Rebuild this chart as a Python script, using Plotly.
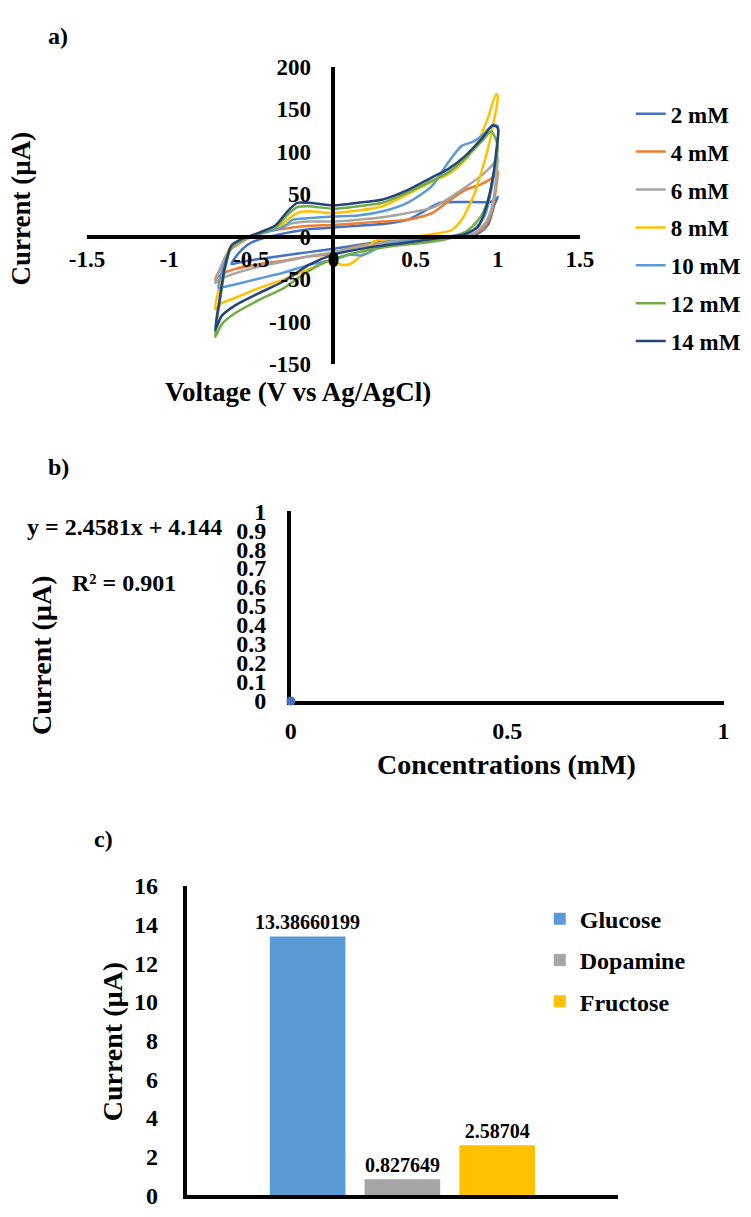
import plotly.graph_objects as go

W, H = 751, 1217
FONT = "Liberation Serif"

def fx(px):
    return px / W

def fy(py):
    return 1 - py / H

# ---------------- Panel a: cyclic voltammograms ----------------
conc_labels = ["2 mM", "4 mM", "6 mM", "8 mM", "10 mM", "12 mM", "14 mM"]
colors_a = ["#4472C4", "#ED7D31", "#A5A5A5", "#FFC000", "#5B9BD5", "#70AD47", "#264478"]

v_2mM = [-0.62, -0.58, -0.52, -0.45, -0.35, -0.25, -0.15, 0.0, 0.15, 0.3, 0.45, 0.55, 0.65, 0.8, 0.95, 0.99, 1.0,
         0.98, 0.94, 0.88, 0.8, 0.65, 0.45, 0.25, 0.1, 0.0, -0.15, -0.3, -0.45, -0.55, -0.62]
i_2mM = [-32, -20, -9, -3, 2, 6, 9, 11, 13, 15, 20, 30, 40, 41, 41, 44, 47,
         38, 14, 4, 0, -1, -3, -7, -11, -14, -18, -22, -26, -29, -32]

v_4mM = [-0.72, -0.69, -0.66, -0.62, -0.55, -0.45, -0.35, -0.25, -0.15, 0.0, 0.15, 0.3, 0.45, 0.6, 0.7, 0.8, 0.9, 0.97, 1.0,
         0.99, 0.96, 0.92, 0.86, 0.78, 0.6, 0.4, 0.2, 0.05, 0.0, -0.15, -0.3, -0.45, -0.6, -0.68, -0.72]
i_4mM = [-50, -38, -26, -14, -5, 5, 8, 11, 13, 14, 16, 18, 20, 28, 42, 55, 62, 70, 77,
         58, 28, 12, 4, 0, -3, -6, -9, -16, -20, -23, -28, -32, -38, -44, -50]

v_6mM = [-0.72, -0.69, -0.66, -0.62, -0.55, -0.45, -0.35, -0.25, -0.15, 0.0, 0.15, 0.3, 0.45, 0.6, 0.7, 0.8, 0.9, 0.97, 1.0,
         0.99, 0.97, 0.93, 0.87, 0.8, 0.65, 0.45, 0.3, 0.15, 0.0, -0.15, -0.3, -0.45, -0.6, -0.68, -0.72]
i_6mM = [-54, -38, -24, -12, -4, 4, 10, 16, 18, 18, 20, 23, 28, 34, 45, 58, 72, 85, 95,
         70, 40, 18, 6, 1, -2, -4, -7, -12, -18, -23, -29, -35, -43, -49, -54]

v_8mM = [-0.72, -0.69, -0.66, -0.62, -0.55, -0.45, -0.35, -0.28, -0.22, -0.15, 0.0, 0.15, 0.3, 0.45, 0.6, 0.7, 0.8, 0.88, 0.94, 0.99,
         1.0, 0.97, 0.935, 0.89, 0.857, 0.78, 0.72, 0.6, 0.4, 0.25, 0.17, 0.1, 0.05, 0.0, -0.15, -0.3, -0.45, -0.6, -0.68, -0.72]
i_8mM = [-85, -55, -28, -10, -3, 4, 10, 20, 28, 30, 28, 31, 36, 50, 65, 74, 90, 112, 140, 168,
         165, 130, 100, 70, 50, 20, 8, 3, -2, -5, -22, -32, -33, -28, -38, -50, -60, -72, -78, -85]

v_10mM = [-0.7, -0.67, -0.63, -0.58, -0.5, -0.4, -0.3, -0.25, -0.15, 0.0, 0.15, 0.3, 0.45, 0.6, 0.7, 0.78, 0.85, 0.92, 0.97, 1.0,
          0.99, 0.96, 0.92, 0.85, 0.75, 0.6, 0.45, 0.3, 0.22, 0.17, 0.1, 0.0, -0.15, -0.3, -0.45, -0.6, -0.67, -0.7]
i_10mM = [-60, -35, -15, -5, 1, 6, 12, 20, 22, 24, 25, 30, 40, 60, 88, 107, 112, 122, 132, 130,
          95, 55, 25, 8, 2, -2, -5, -10, -18, -22, -21, -27, -33, -42, -49, -56, -59, -60]

v_12mM = [-0.72, -0.69, -0.66, -0.62, -0.55, -0.45, -0.35, -0.28, -0.22, -0.15, 0.0, 0.15, 0.3, 0.45, 0.6, 0.7, 0.8, 0.9, 0.96, 0.99,
          1.0, 0.98, 0.95, 0.9, 0.82, 0.7, 0.55, 0.4, 0.2, 0.0, -0.15, -0.3, -0.45, -0.6, -0.68, -0.72]
i_12mM = [-118, -75, -38, -12, -3, 4, 12, 26, 35, 36, 33, 36, 40, 52, 66, 76, 92, 112, 124, 114,
          105, 80, 50, 25, 8, -2, -7, -10, -16, -26, -40, -60, -74, -90, -103, -118]

v_14mM = [-0.72, -0.69, -0.66, -0.62, -0.55, -0.45, -0.35, -0.28, -0.22, -0.15, 0.0, 0.15, 0.3, 0.45, 0.6, 0.7, 0.8, 0.9, 0.97, 1.0,
          0.99, 0.97, 0.93, 0.88, 0.8, 0.7, 0.55, 0.4, 0.2, 0.0, -0.15, -0.3, -0.45, -0.6, -0.68, -0.72]
i_14mM = [-110, -70, -35, -10, -2, 5, 14, 30, 40, 40, 37, 40, 44, 55, 70, 80, 95, 115, 131, 128,
          100, 70, 35, 12, 3, 0, -4, -8, -13, -21, -33, -52, -66, -81, -93, -110]

voltages = [v_2mM, v_4mM, v_6mM, v_8mM, v_10mM, v_12mM, v_14mM]
currents = [i_2mM, i_4mM, i_6mM, i_8mM, i_10mM, i_12mM, i_14mM]

volt_tickvals = [-1.5, -1, -0.5, 0, 0.5, 1, 1.5]
volt_ticktext = ["-1.5", "-1", "-0.5", "0", "0.5", "1", "1.5"]
curr_tickvals = [-150, -100, -50, 0, 50, 100, 150, 200]
curr_ticktext = ["-150", "-100", "-50", "0", "50", "100", "150", "200"]

# ---------------- Panel b: calibration ----------------
conc_b = [0]
current_b = [0]
fit_equation = "y = 2.4581x + 4.144"
fit_r2 = "R² = 0.901"

# ---------------- Panel c: selectivity ----------------
analytes = ["Glucose", "Dopamine", "Fructose"]
analyte_current = [13.38660199, 0.827649, 2.58704]
analyte_labels = ["13.38660199", "0.827649", "2.58704"]
colors_c = ["#5B9BD5", "#A5A5A5", "#FFC000"]

fig = go.Figure()

for k, (lab, col) in enumerate(zip(conc_labels, colors_a)):
    fig.add_trace(go.Scatter(
        x=voltages[k], y=currents[k], mode="lines", name=lab,
        line=dict(color=col, width=2.5, shape="spline", smoothing=0.7),
        xaxis="x", yaxis="y", legend="legend", legendgroup=lab,
    ))

fig.add_trace(go.Scatter(
    x=conc_b, y=current_b, mode="markers", showlegend=False,
    marker=dict(color="#4472C4", size=9), cliponaxis=False,
    xaxis="x2", yaxis="y2",
))

for name, val, txt, col in zip(analytes, analyte_current, analyte_labels, colors_c):
    fig.add_trace(go.Bar(
        x=["sample"], y=[val], name=name, marker=dict(color=col, line=dict(width=0)),
        text=[txt], textposition="outside", cliponaxis=False, constraintext="none",
        textfont=dict(family=FONT, size=20, color="black", weight="bold"),
        xaxis="x3", yaxis="y3", legend="legend2", legendgroup=name,
    ))

tick_a = dict(family=FONT, size=23, color="black", weight="bold")
tick_b = dict(family=FONT, size=24, color="black", weight="bold")

x0_a = 72
x1_a = 587
y_top_a = 55
y_bot_a = 359
yzero_px = y_top_a + (200 / 350) * (y_bot_a - y_top_a)
xzero_px = (x0_a + x1_a) / 2

fig.update_layout(
    width=W, height=H,
    margin=dict(l=0, r=0, t=0, b=0),
    paper_bgcolor="white", plot_bgcolor="white",
    font=dict(family=FONT, color="black"),
    barmode="group", bargap=0.3415, bargroupgap=0.202,
    xaxis=dict(domain=[fx(x0_a), fx(x1_a)], range=[-1.5, 1.5],
               tickvals=volt_tickvals, ticktext=volt_ticktext,
               anchor="free", position=fy(yzero_px),
               showline=True, linecolor="black", linewidth=3.5, showgrid=False, zeroline=False,
               ticks="", tickfont=tick_a, ticklabelstandoff=1),
    yaxis=dict(domain=[fy(y_bot_a), fy(y_top_a)], range=[-150, 200],
               tickvals=curr_tickvals, ticktext=curr_ticktext,
               anchor="free", position=fx(xzero_px),
               showline=True, linecolor="black", linewidth=3.5, showgrid=False, zeroline=False,
               ticks="", tickfont=tick_a, ticklabelstandoff=16),
    xaxis2=dict(domain=[fx(285), fx(737)], range=[0, 1], dtick=0.5, anchor="y2",
                showline=True, linecolor="black", linewidth=3.5, showgrid=False, zeroline=False,
                ticks="", tickfont=tick_b, ticklabelstandoff=5, layer="below traces"),
    yaxis2=dict(domain=[fy(703), fy(509)], range=[0, 1], dtick=0.1, anchor="x2",
                showline=True, linecolor="black", linewidth=3.5, showgrid=False, zeroline=False,
                ticks="", tickfont=tick_b, ticklabelstandoff=16, layer="below traces"),
    xaxis3=dict(domain=[fx(176), fx(627)], range=[-0.5, 0.5], anchor="y3", type="category",
                showline=True, linecolor="black", linewidth=3.5, showgrid=False, zeroline=False,
                ticks="", showticklabels=False),
    yaxis3=dict(domain=[fy(1208), fy(892)], range=[0, 16], dtick=2, anchor="x3",
                showline=True, linecolor="black", linewidth=3.5, showgrid=False, zeroline=False,
                ticks="", tickfont=tick_b, ticklabelstandoff=20),
    legend=dict(x=fx(640), y=fy(81), xanchor="left", yanchor="top",
                font=dict(family=FONT, size=23, color="black", weight="bold"),
                tracegroupgap=5, bgcolor="rgba(0,0,0,0)", itemwidth=30),
    legend2=dict(x=fx(545), y=fy(903), xanchor="left", yanchor="top",
                 font=dict(family=FONT, size=24, color="black", weight="bold"),
                 tracegroupgap=7, bgcolor="rgba(0,0,0,0)"),
)

def ann(text, px, py, size, angle=0):
    fig.add_annotation(text=text, x=fx(px), y=fy(py), xref="paper", yref="paper",
                       showarrow=False, textangle=angle, xanchor="center", yanchor="middle",
                       font=dict(family=FONT, size=size, color="black", weight="bold"))

ann("a)", 42, 23, 24)
ann("Current (µA)", 3, 200, 27, -90)
ann("Voltage (V vs Ag/AgCl)", 292, 387, 27)

ann("b)", 42, 464, 24)
ann(fit_equation, 111, 525, 24)
ann(fit_r2, 111, 582, 24)
ann("Current (µA)", 25, 656, 28, -90)
ann("Concentrations (mM)", 510, 768, 28)

ann("c)", 89, 844, 24)
ann("Current (µA)", 99, 1051, 28, -90)

fig.write_html("out.html")
